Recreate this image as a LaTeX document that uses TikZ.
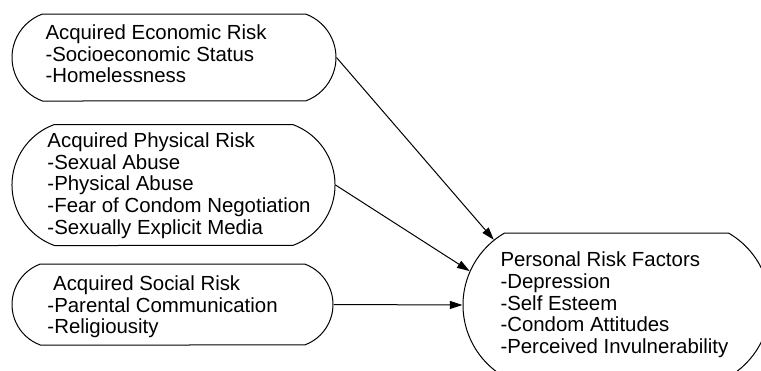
\documentclass[tikz,border=0pt]{standalone}
\usepackage{fontspec}
\setmainfont{Liberation Sans}
\usetikzlibrary{shapes.misc,arrows.meta}

\tikzset{every picture/.style={line width=0.75pt}}
\tikzset{
  riskbox/.style={draw, rounded rectangle, rounded rectangle arc length=140, inner sep=0pt},
  risktext/.style={anchor=north west, inner sep=0pt, align=left, font=\fontsize{15.3}{16.2}\selectfont},
  riskarrow/.style={-{Triangle[length=9.5pt,width=6pt]}}
}

\begin{document}
\begin{tikzpicture}[x=0.75pt,y=0.75pt,yscale=-1,xscale=1]
\useasboundingbox (0,0) rectangle (761,371);

%Shape: Rounded Rectangle [econ]
\node [riskbox, minimum width=243pt, minimum height=65.25pt] (econ) at (174,57.5) {};
%Shape: Rounded Rectangle [phys]
\node [riskbox, minimum width=242.25pt, minimum height=90.75pt] (phys) at (173.5,185) {};
%Shape: Rounded Rectangle [social]
\node [riskbox, minimum width=240.75pt, minimum height=60.75pt] (social) at (172.5,304.5) {};
%Shape: Rounded Rectangle [pers]
\node [riskbox, rounded rectangle arc length=120, minimum width=230.25pt, minimum height=108pt] (pers) at (616.5,305) {};

%Straight Lines
\draw [riskarrow] (econ.east) -- (pers.152);
%Straight Lines
\draw [riskarrow] (phys.east) -- (pers.167);
%Straight Lines
\draw [riskarrow] (social.east) -- (pers.west);

% Text Node
\node [risktext] (econ text) at (45,24.5) {Acquired Economic Risk\\-Socioeconomic Status\\-Homelessness};
% Text Node
\node [risktext] (phys text) at (47,132.5) {Acquired Physical Risk\\-Sexual Abuse\\-Physical Abuse\\-Fear of Condom Negotiation\\-Sexually Explicit Media};
% Text Node
\node [risktext] (social text) at (47,275.5) {\ Acquired Social Risk\\-Parental Communication\\-Religiousity};
% Text Node
\node [risktext] (pers text) at (500,251.7) {Personal Risk Factors\\-Depression\\-Self Esteem\\-Condom Attitudes\\-Perceived Invulnerability};

\end{tikzpicture}
\end{document}
